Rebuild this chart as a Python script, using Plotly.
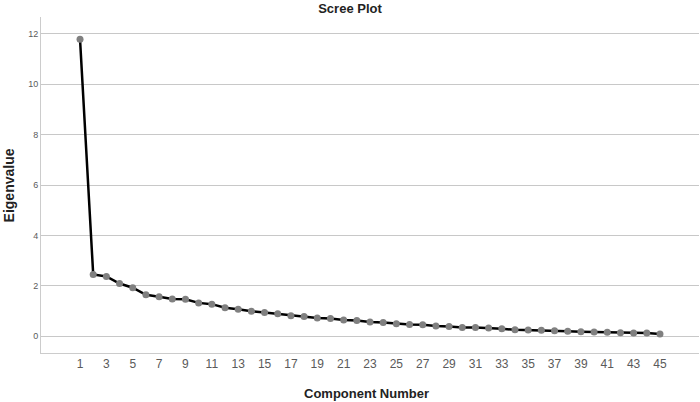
import plotly.graph_objects as go

# component numbers and eigenvalues
components = list(range(1, 46))
eigenvalues = [11.79, 2.45, 2.37, 2.09, 1.92, 1.64, 1.56, 1.47, 1.46, 1.32,
               1.27, 1.13, 1.07, 0.99, 0.94, 0.89, 0.81, 0.78, 0.72, 0.70,
               0.64, 0.62, 0.56, 0.54, 0.49, 0.46, 0.45, 0.40, 0.38, 0.34,
               0.34, 0.32, 0.29, 0.25, 0.24, 0.23, 0.21, 0.19, 0.17, 0.16,
               0.15, 0.13, 0.12, 0.12, 0.08]
x_ticks = list(range(1, 46, 2))

fig = go.Figure(go.Scatter(
    x=components, y=eigenvalues, mode='lines+markers',
    line=dict(color='black', width=2.5),
    marker=dict(color='#808080', size=7),
    showlegend=False))

fig.update_layout(
    width=700, height=402,
    margin=dict(l=41, r=1, t=17, b=49),
    paper_bgcolor='white', plot_bgcolor='white',
    font=dict(family='Liberation Sans, Arial, sans-serif', color='#555555'),
    title=dict(text='<b>Scree Plot</b>', x=0.5, xanchor='center', y=0.99, yanchor='top',
               font=dict(size=13, color='#222222')),
)
fig.update_xaxes(
    range=[-1.96, 47.96], tickvals=x_ticks, showgrid=False, zeroline=False,
    showline=True, linecolor='#cccccc', linewidth=1, ticks='', automargin=False,
    tickfont=dict(size=12, color='#5a5a5a'))
fig.update_yaxes(
    range=[-0.67, 12.67], dtick=2, showgrid=True, gridcolor='#c8c8c8', gridwidth=1,
    zeroline=False, showline=True, linecolor='#cccccc', linewidth=1, ticks='', automargin=False,
    tickfont=dict(size=9, color='#5a5a5a'))

# axis titles as annotations so they sit where the reference has them
fig.add_annotation(text='<b>Component Number</b>', xref='paper', yref='paper',
                   x=0.494, y=-0.122, yanchor='middle', showarrow=False,
                   font=dict(size=13, color='#222222'))
fig.add_annotation(text='<b>Eigenvalue</b>', xref='paper', yref='paper',
                   x=-0.048, y=0.5, xanchor='center', textangle=-90, showarrow=False,
                   font=dict(size=14, color='#222222'))

# drop the page's default body margin so the figure fills the window
fig.write_html("out.html", config={'displayModeBar': False},
               post_script="document.body.style.margin='0';")
